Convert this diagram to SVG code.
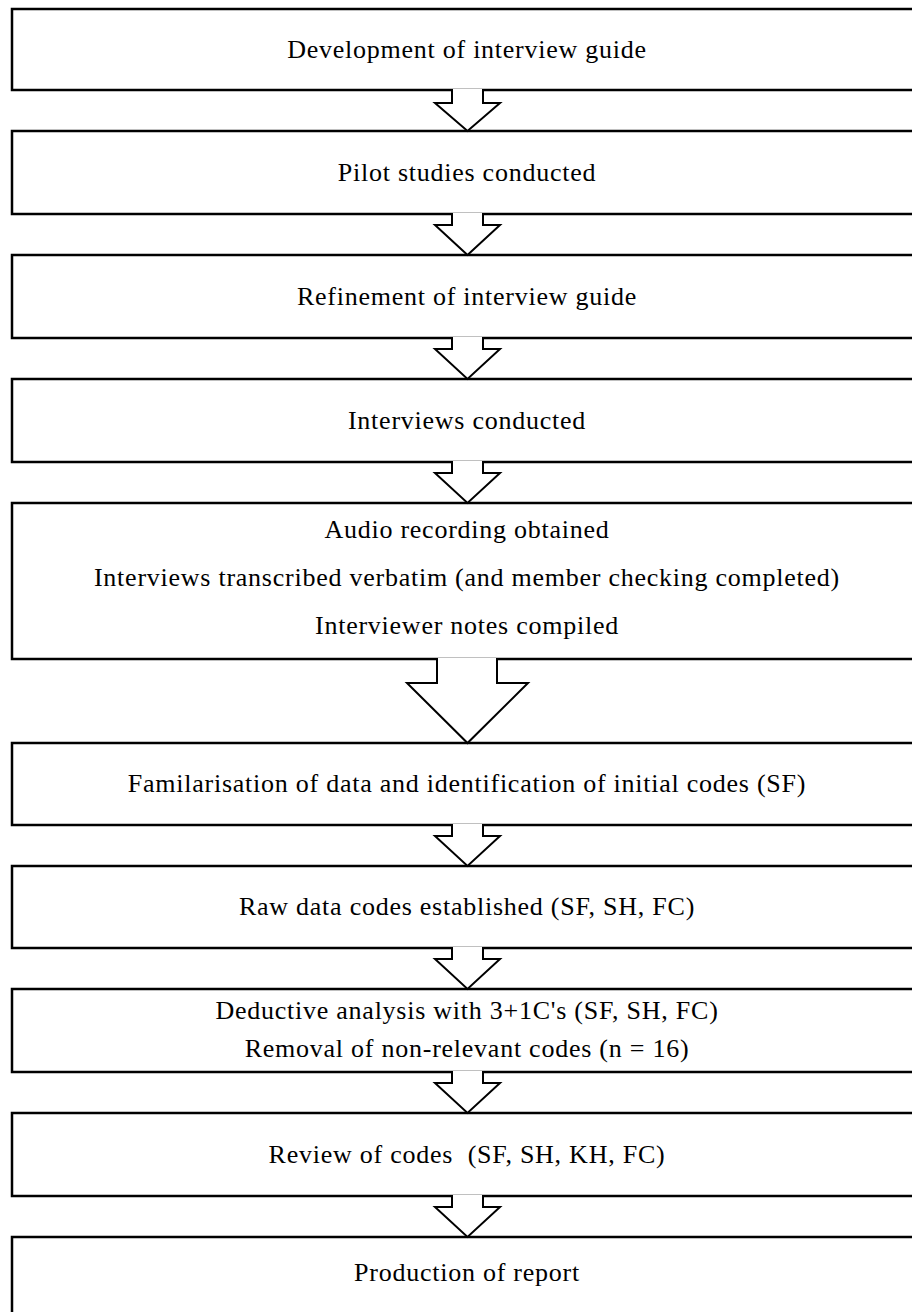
<svg xmlns="http://www.w3.org/2000/svg" width="912" height="1312" viewBox="0 0 912 1312">
<style>
.box{fill:#fff;stroke:#000;stroke-width:2.5}
.arr{fill:#fff;stroke:#000;stroke-width:2;stroke-linejoin:miter}
text{font-family:"Liberation Serif","Times New Roman",serif;font-size:26px;fill:#000;text-anchor:middle;letter-spacing:0.75px}
</style>
<rect width="912" height="1312" fill="#fff"/>
<g id="n1"><rect class="box" x="12" y="9" width="910" height="81"/><text x="467" y="58">Development of interview guide</text></g>
<g id="n2"><rect class="box" x="12" y="131" width="910" height="83"/><text x="467" y="181">Pilot studies conducted</text></g>
<g id="n3"><rect class="box" x="12" y="255" width="910" height="83"/><text x="467" y="305">Refinement of interview guide</text></g>
<g id="n4"><rect class="box" x="12" y="379" width="910" height="83"/><text x="467" y="429">Interviews conducted</text></g>
<g id="n5"><rect class="box" x="12" y="503" width="910" height="156"/>
<text x="467" y="538">Audio recording obtained</text>
<text x="467" y="586">Interviews transcribed verbatim (and member checking completed)</text>
<text x="467" y="634">Interviewer notes compiled</text></g>
<g id="n6"><rect class="box" x="12" y="743" width="910" height="82"/><text x="467" y="792">Familarisation of data and identification of initial codes (SF)</text></g>
<g id="n7"><rect class="box" x="12" y="866" width="910" height="82"/><text x="467" y="915">Raw data codes established (SF, SH, FC)</text></g>
<g id="n8"><rect class="box" x="12" y="989" width="910" height="83"/>
<text x="467" y="1019">Deductive analysis with 3+1C's (SF, SH, FC)</text>
<text x="467" y="1057">Removal of non-relevant codes (n = 16)</text></g>
<g id="n9"><rect class="box" x="12" y="1113" width="910" height="83"/><text x="467" y="1163" xml:space="preserve">Review of codes  (SF, SH, KH, FC)</text></g>
<g id="n10"><rect class="box" x="12" y="1237" width="910" height="100"/><text x="467" y="1281">Production of report</text></g>
<g id="connectors">
<path class="arr" d="M452,89 L452,103 L435,103 L467.5,131 L500,103 L483,103 L483,89"/>
<path class="arr" d="M452,213 L452,225 L435,225 L467.5,255 L500,225 L483,225 L483,213"/>
<path class="arr" d="M452,337 L452,349 L435,349 L467.5,379 L500,349 L483,349 L483,337"/>
<path class="arr" d="M452,461 L452,473 L435,473 L467.5,503 L500,473 L483,473 L483,461"/>
<path class="arr" d="M437,658 L437,683 L407,683 L467.5,743 L528,683 L497,683 L497,658"/>
<path class="arr" d="M452,824 L452,836 L435,836 L467.5,866 L500,836 L483,836 L483,824"/>
<path class="arr" d="M452,947 L452,959 L435,959 L467.5,989 L500,959 L483,959 L483,947"/>
<path class="arr" d="M452,1071 L452,1083 L435,1083 L467.5,1113 L500,1083 L483,1083 L483,1071"/>
<path class="arr" d="M452,1195 L452,1207 L435,1207 L467.5,1237 L500,1207 L483,1207 L483,1195"/>
</g>
</svg>
